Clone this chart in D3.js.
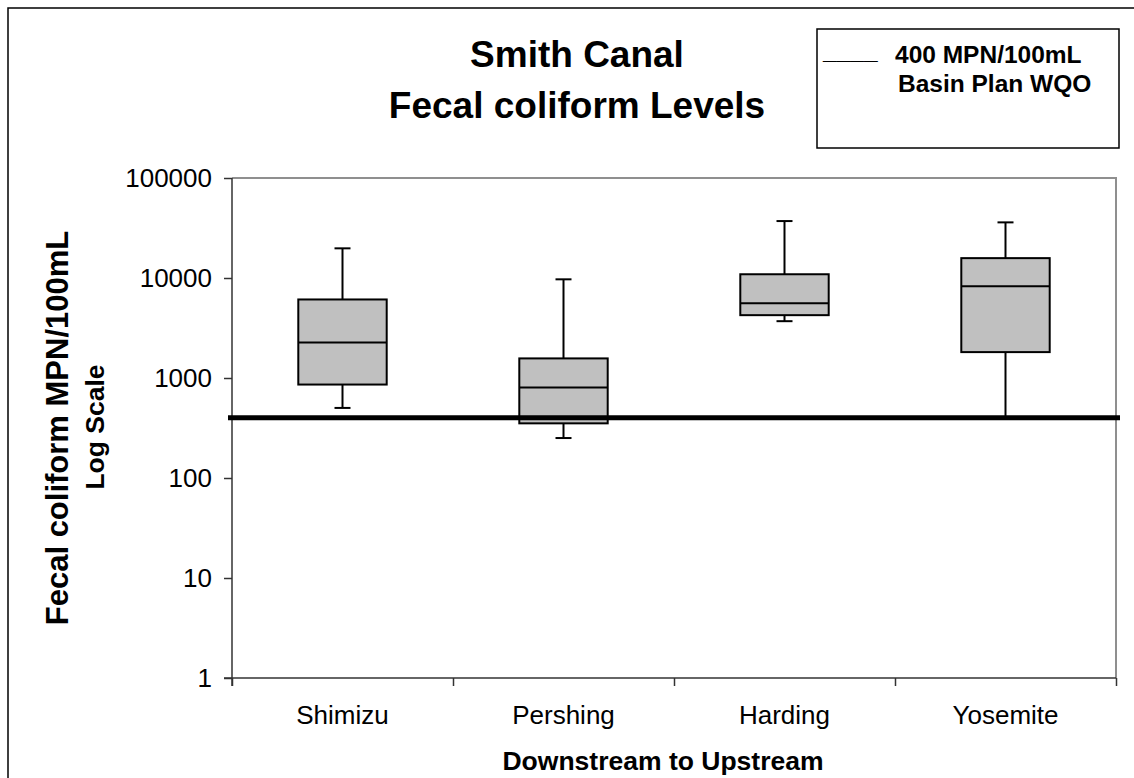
<!DOCTYPE html>
<html>
<head>
<meta charset="utf-8">
<script src="https://cdn.jsdelivr.net/npm/d3@7"></script>
<style>
  body { margin: 0; background: #fff; }
  svg { display: block; font-family: "Liberation Sans", Arial, sans-serif; }
</style>
</head>
<body>
<div id="chart"></div>
<script>
// ===== data =====
var categories  = ["Shimizu", "Pershing", "Harding", "Yosemite"];
var whiskerHigh = [19800, 9700, 37100, 36000];
var q3          = [6100, 1570, 10900, 15800];
var medians     = [2270, 805, 5600, 8250];
var q1          = [860, 352, 4250, 1815];
var whiskerLow  = [502, 251, 3700, 400];
var yTicks      = [1, 10, 100, 1000, 10000, 100000];
var threshold   = 400;

var W = 1134, H = 778;
var plotLeft = 232, plotRight = 1116, plotTop = 178, plotBottom = 678;

var svg = d3.select("#chart")
    .append("svg")
    .attr("width", W)
    .attr("height", H)

// outer chart frame (only top/left show)
svg.append("rect")
    .attr("x", 8).attr("y", 8)
    .attr("width", W + 20).attr("height", H + 20)
    .attr("fill", "none")
    .attr("stroke", "#000")
    .attr("stroke-width", 1.5)

var y = d3.scaleLog().domain([1, 100000]).range([plotBottom, plotTop])
var x = d3.scaleBand().domain(categories).range([plotLeft, plotRight])
var xEdge = d3.scaleLinear().domain([0, categories.length]).range([plotLeft, plotRight])

// plot frame, top and right in grey
svg.append("path")
    .attr("d", "M" + plotLeft + "," + plotTop + "H" + plotRight + "V" + plotBottom)
    .attr("fill", "none")
    .attr("stroke", "#8f8f8f")
    .attr("stroke-width", 2)

// y axis
var yAxis = svg.append("g")
    .attr("transform", "translate(" + plotLeft + ",0)")
    .call(d3.axisLeft(y).tickValues(yTicks).tickFormat(d3.format("d")).tickSize(8).tickPadding(12))
yAxis.select(".domain").remove()
yAxis.selectAll("line").attr("stroke", "#333").attr("stroke-width", 1.5)
yAxis.selectAll("text")
    .attr("font-size", "26px")
    .attr("font-family", "'Liberation Sans', Arial, sans-serif")
    .attr("fill", "#000")

// x axis: ticks on the category edges
var xAxis = svg.append("g")
    .attr("transform", "translate(0," + plotBottom + ")")
    .call(d3.axisBottom(xEdge).ticks(categories.length).tickFormat("").tickSize(8))
xAxis.select(".domain").remove()
xAxis.selectAll("line").attr("stroke", "#333").attr("stroke-width", 1.5)

// axis lines
svg.append("line")
    .attr("x1", plotLeft).attr("x2", plotLeft)
    .attr("y1", plotTop).attr("y2", plotBottom + 8)
    .attr("stroke", "#333").attr("stroke-width", 1.5)
svg.append("line")
    .attr("x1", plotLeft - 8).attr("x2", plotRight)
    .attr("y1", plotBottom).attr("y2", plotBottom)
    .attr("stroke", "#333").attr("stroke-width", 1.5)

// category labels
svg.append("g").selectAll("text")
    .data(categories)
    .join("text")
    .attr("x", function(d){ return x(d) + x.bandwidth() / 2 })
    .attr("y", 724)
    .attr("text-anchor", "middle")
    .attr("font-size", "26px")
    .text(function(d){ return d })

// boxes
var boxW = x.bandwidth() * 0.4;
var capW = 16;
var boxes = svg.append("g").selectAll("g")
    .data(categories)
    .join("g")
    .attr("transform", function(d){ return "translate(" + (x(d) + x.bandwidth() / 2) + ",0)" })

// whiskers
boxes.append("line")
    .attr("x1", 0).attr("x2", 0)
    .attr("y1", function(d, i){ return y(whiskerHigh[i]) })
    .attr("y2", function(d, i){ return y(whiskerLow[i]) })
    .attr("stroke", "#000").attr("stroke-width", 2)
boxes.append("line")
    .attr("x1", -capW / 2).attr("x2", capW / 2)
    .attr("y1", function(d, i){ return y(whiskerHigh[i]) })
    .attr("y2", function(d, i){ return y(whiskerHigh[i]) })
    .attr("stroke", "#000").attr("stroke-width", 2)
boxes.append("line")
    .attr("x1", -capW / 2).attr("x2", capW / 2)
    .attr("y1", function(d, i){ return y(whiskerLow[i]) })
    .attr("y2", function(d, i){ return y(whiskerLow[i]) })
    .attr("stroke", "#000").attr("stroke-width", 2)

// box body
boxes.append("rect")
    .attr("x", -boxW / 2)
    .attr("width", boxW)
    .attr("y", function(d, i){ return y(q3[i]) })
    .attr("height", function(d, i){ return y(q1[i]) - y(q3[i]) })
    .attr("fill", "#c0c0c0")
    .attr("stroke", "#000")
    .attr("stroke-width", 2)

// median
boxes.append("line")
    .attr("x1", -boxW / 2).attr("x2", boxW / 2)
    .attr("y1", function(d, i){ return y(medians[i]) })
    .attr("y2", function(d, i){ return y(medians[i]) })
    .attr("stroke", "#000").attr("stroke-width", 2)

// 400 MPN/100mL objective line
svg.append("line")
    .attr("x1", plotLeft - 4).attr("x2", plotRight + 4)
    .attr("y1", y(threshold)).attr("y2", y(threshold))
    .attr("stroke", "#000")
    .attr("stroke-width", 5)

// title
svg.append("text")
    .attr("x", 577).attr("y", 67)
    .attr("text-anchor", "middle")
    .attr("font-size", "37px").attr("font-weight", "bold")
    .text("Smith Canal")
svg.append("text")
    .attr("x", 577).attr("y", 118)
    .attr("text-anchor", "middle")
    .attr("font-size", "37px").attr("font-weight", "bold")
    .text("Fecal coliform Levels")

// y axis titles
svg.append("text")
    .attr("transform", "translate(68,428) rotate(-90)")
    .attr("text-anchor", "middle")
    .attr("font-size", "31px").attr("font-weight", "bold")
    .text("Fecal coliform MPN/100mL")
svg.append("text")
    .attr("transform", "translate(104,427) rotate(-90)")
    .attr("text-anchor", "middle")
    .attr("font-size", "26.5px").attr("font-weight", "bold")
    .text("Log Scale")

// x axis title
svg.append("text")
    .attr("x", 663).attr("y", 770)
    .attr("text-anchor", "middle")
    .attr("font-size", "26.5px").attr("font-weight", "bold")
    .text("Downstream to Upstream")

// legend box
svg.append("rect")
    .attr("x", 817).attr("y", 29)
    .attr("width", 302).attr("height", 119)
    .attr("fill", "#fff")
    .attr("stroke", "#000")
    .attr("stroke-width", 1.5)
svg.append("text")
    .attr("x", 823).attr("y", 59)
    .attr("font-size", "24.5px").attr("font-weight", "bold")
    .text("____")
svg.append("text")
    .attr("x", 895).attr("y", 63)
    .attr("font-size", "24.5px").attr("font-weight", "bold")
    .text("400 MPN/100mL")
svg.append("text")
    .attr("x", 898).attr("y", 92)
    .attr("font-size", "24.5px").attr("font-weight", "bold")
    .text("Basin Plan WQO")
</script>
</body>
</html>
